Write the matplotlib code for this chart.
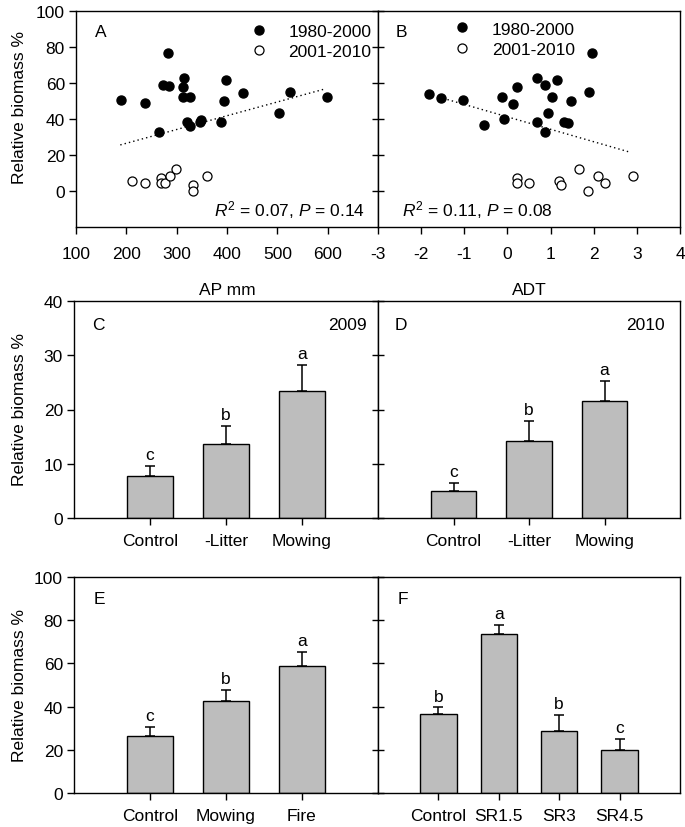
import matplotlib
matplotlib.use("Agg")
import matplotlib.pyplot as plt

plt.rcParams['font.family'] = ['Liberation Sans', 'DejaVu Sans']
plt.rcParams['font.size'] = 12.5
plt.rcParams['axes.unicode_minus'] = False
plt.rcParams['mathtext.fontset'] = 'custom'
plt.rcParams['mathtext.rm'] = 'Liberation Sans'
plt.rcParams['mathtext.it'] = 'Liberation Sans:italic'

# ---------------- data ----------------
# Panel A: relative biomass vs annual precipitation (AP mm)
ap_8000 = [190, 238, 264, 283, 272, 285, 314, 312, 312, 327, 320, 327, 346, 349, 389, 395, 398, 431, 503, 526, 599]
rbA_8000 = [50.4, 48.8, 33.0, 76.8, 58.7, 58.2, 62.8, 57.8, 52.1, 52.0, 38.1, 36.3, 38.1, 39.6, 38.1, 50.1, 61.7, 54.3, 43.6, 55.1, 52.1]
ap_0110 = [212, 238, 269, 269, 277, 287, 298, 333, 333, 361]
rbA_0110 = [5.3, 4.2, 7.5, 4.4, 4.4, 8.5, 12.0, 3.5, 0.0, 8.3]
trendA_x = [188, 592]
trendA_y = [25.6, 56.5]

# Panel B: relative biomass vs ADT
adt_8000 = [-1.81, -1.54, -1.04, -0.54, -0.08, -0.12, 0.12, 0.22, 0.68, 0.68, 0.88, 0.86, 0.95, 1.04, 1.14, 1.32, 1.41, 1.48, 1.88, 1.95]
rbB_8000 = [54.1, 51.9, 50.4, 36.6, 40.0, 52.1, 48.6, 57.8, 62.8, 38.3, 58.7, 33.0, 43.5, 52.3, 61.7, 38.3, 37.9, 50.2, 55.1, 76.8]
adt_0110 = [0.23, 0.23, 0.51, 1.19, 1.25, 1.67, 1.86, 2.09, 2.25, 2.90]
rbB_0110 = [7.5, 4.4, 4.4, 5.3, 3.1, 12.2, 0.0, 8.3, 4.2, 8.5]
trendB_x = [-1.39, 2.85]
trendB_y = [50.8, 21.5]

legend_labels = ['1980-2000', '2001-2010']
statsA = r'$\mathit{R}^{2}$ = 0.07, $\mathit{P}$ = 0.14'
statsB = r'$\mathit{R}^{2}$ = 0.11, $\mathit{P}$ = 0.08'

# Panel C (2009) and D (2010)
cats_CD = ['Control', '-Litter', 'Mowing']
mean_C = [7.7, 13.7, 23.4]
err_C = [1.85, 3.25, 4.8]
let_C = ['c', 'b', 'a']
mean_D = [4.9, 14.2, 21.6]
err_D = [1.5, 3.6, 3.7]
let_D = ['c', 'b', 'a']

# Panel E and F
cats_E = ['Control', 'Mowing', 'Fire']
mean_E = [26.2, 42.5, 58.9]
err_E = [4.2, 5.1, 6.6]
let_E = ['c', 'b', 'a']
cats_F = ['Control', 'SR1.5', 'SR3', 'SR4.5']
mean_F = [36.5, 73.8, 28.5, 19.9]
err_F = [3.1, 3.9, 7.7, 5.1]
let_F = ['b', 'a', 'b', 'c']

# ---------------- figure ----------------
W, H = 685, 828
fig = plt.figure(figsize=(W / 100, H / 100), dpi=100)

def rect(x0, x1, ytop, ybot):
    return [x0 / W, 1 - ybot / H, (x1 - x0) / W, (ybot - ytop) / H]

axA = fig.add_axes(rect(76, 378, 12, 228))
axB = fig.add_axes(rect(378, 680, 12, 228))
axC = fig.add_axes(rect(74, 378, 302, 519))
axD = fig.add_axes(rect(378, 680, 302, 519))
axE = fig.add_axes(rect(74, 378, 578, 794))
axF = fig.add_axes(rect(378, 680, 578, 794))

for ax in (axA, axB, axC, axD, axE, axF):
    for s in ax.spines.values():
        s.set_linewidth(1.0)
    ax.tick_params(axis='both', length=5, width=1.0, labelsize=12.5)
    ax.tick_params(axis='x', direction='out', pad=6)
    ax.tick_params(axis='y', direction='out', pad=3)

for ax in (axB, axD, axF):
    ax.tick_params(axis='y', direction='inout', length=8, labelleft=False)

# ---- scatter panels ----
def scatter_panel(ax, x1, y1, x2, y2, tx, ty):
    ax.plot(x1, y1, 'o', color='black', ms=6.5, mec='black', label=legend_labels[0], zorder=3)
    ax.plot(x2, y2, 'o', mfc='white', mec='black', mew=0.9, ms=6.5, label=legend_labels[1], zorder=3)
    ax.plot(tx, ty, linestyle=(0, (1, 2.2)), color='black', lw=1.0, zorder=2)
    ax.set_ylim(-20, 100)

scatter_panel(axA, ap_8000, rbA_8000, ap_0110, rbA_0110, trendA_x, trendA_y)
scatter_panel(axB, adt_8000, rbB_8000, adt_0110, rbB_0110, trendB_x, trendB_y)

axA.set_xlim(100, 700)
axA.set_xticks([100, 200, 300, 400, 500, 600])
axA.set_yticks([0, 20, 40, 60, 80, 100])
axB.set_xlim(-3, 4)
axB.set_xticks([-3, -2, -1, 0, 1, 2, 3, 4])
axB.set_yticks([0, 20, 40, 60, 80, 100])
axA.tick_params(axis='x', pad=9)
axB.tick_params(axis='x', pad=9)
axA.set_xlabel('AP mm', labelpad=15)
axB.set_xlabel('ADT', labelpad=15)

axA.legend(loc='upper left', bbox_to_anchor=(0.577, 0.942), frameon=False,
           handlelength=1.0, handletextpad=1.2, borderpad=0, borderaxespad=0,
           labelspacing=0.3, fontsize=12.5)
axB.legend(loc='upper left', bbox_to_anchor=(0.250, 0.952), frameon=False,
           handlelength=1.0, handletextpad=1.2, borderpad=0, borderaxespad=0,
           labelspacing=0.3, fontsize=12.5)

axA.text(0.957, 0.083, statsA, transform=axA.transAxes, ha='right', va='center')
axB.text(0.079, 0.083, statsB, transform=axB.transAxes, ha='left', va='center')
axA.text(0.062, 0.903, 'A', transform=axA.transAxes, ha='left', va='center')
axB.text(0.060, 0.903, 'B', transform=axB.transAxes, ha='left', va='center')

# ---- bar panels ----
def bar_panel(ax, cats, means, errs, letters, ymax, yticks):
    pos = list(range(1, len(cats) + 1))
    ax.bar(pos, means, width=0.6, color='#bdbdbd', edgecolor='black', linewidth=1.0, zorder=2)
    ax.errorbar(pos, means, yerr=[[0] * len(errs), errs], fmt='none', ecolor='black',
                elinewidth=1.1, capsize=3.5, capthick=1.1, zorder=3)
    for p, m, e, l in zip(pos, means, errs, letters):
        ax.annotate(l, (p, m + e), xytext=(0, 5), textcoords='offset points',
                    ha='center', va='baseline', fontsize=12.5)
    ax.set_xlim(0, len(cats) + 1)
    ax.set_xticks(pos)
    ax.set_xticklabels(cats)
    ax.set_ylim(0, ymax)
    ax.set_yticks(yticks)

bar_panel(axC, cats_CD, mean_C, err_C, let_C, 40, [0, 10, 20, 30, 40])
bar_panel(axD, cats_CD, mean_D, err_D, let_D, 40, [0, 10, 20, 30, 40])
bar_panel(axE, cats_E, mean_E, err_E, let_E, 100, [0, 20, 40, 60, 80, 100])
bar_panel(axF, cats_F, mean_F, err_F, let_F, 100, [0, 20, 40, 60, 80, 100])

axC.text(0.06, 0.894, 'C', transform=axC.transAxes, ha='left', va='center')
axC.text(0.964, 0.894, '2009', transform=axC.transAxes, ha='right', va='center')
axD.text(0.056, 0.894, 'D', transform=axD.transAxes, ha='left', va='center')
axD.text(0.950, 0.894, '2010', transform=axD.transAxes, ha='right', va='center')
axE.text(0.066, 0.90, 'E', transform=axE.transAxes, ha='left', va='center')
axF.text(0.066, 0.90, 'F', transform=axF.transAxes, ha='left', va='center')

# y labels
for ax, yc in ((axA, 108), (axC, 410), (axE, 686)):
    ax.set_ylabel('Relative biomass %', fontsize=12.5)
    ax.yaxis.set_label_coords(27 / W, 1 - yc / H, transform=fig.transFigure)

fig.savefig('out.png', dpi=100)
